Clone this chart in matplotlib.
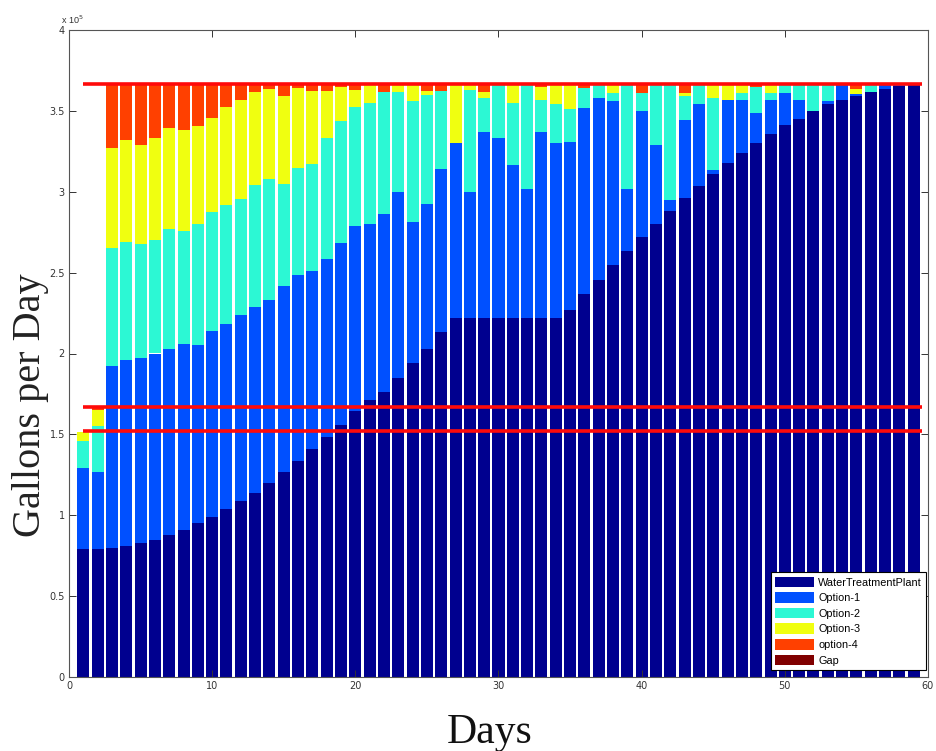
import matplotlib
matplotlib.use("Agg")
import matplotlib.pyplot as plt
import numpy as np

# values in units of 1e5 gallons per day, one entry per day (days 1..59)
days = list(range(1, 60))

wtp = [0.79, 0.79, 0.80, 0.81, 0.83, 0.85, 0.88, 0.91, 0.95, 0.99,
       1.04, 1.09, 1.14, 1.20, 1.265, 1.335, 1.41, 1.485, 1.56, 1.645,
       1.71, 1.765, 1.85, 1.94, 2.03, 2.13, 2.22, 2.22, 2.22, 2.22,
       2.22, 2.22, 2.22, 2.22, 2.27, 2.365, 2.455, 2.55, 2.635, 2.72,
       2.80, 2.88, 2.96, 3.035, 3.11, 3.18, 3.24, 3.30, 3.36, 3.41,
       3.45, 3.50, 3.54, 3.565, 3.595, 3.615, 3.635, 3.655, 3.665]

option1 = [0.50, 0.48, 1.12, 1.15, 1.145, 1.15, 1.15, 1.15, 1.10, 1.15,
           1.145, 1.15, 1.15, 1.13, 1.15, 1.15, 1.10, 1.10, 1.125, 1.145,
           1.09, 1.10, 1.15, 0.87, 0.895, 1.01, 1.08, 0.78, 1.15, 1.11,
           0.945, 0.80, 1.15, 1.08, 1.035, 1.155, 1.125, 1.01, 0.385, 0.78,
           0.49, 0.07, 0.485, 0.505, 0.025, 0.39, 0.325, 0.185, 0.205, 0.20,
           0.12, 0.0, 0.02, 0.10, 0.01, 0.0, 0.03, 0.01, 0.0]

option2 = [0.17, 0.28, 0.735, 0.73, 0.705, 0.70, 0.74, 0.70, 0.75, 0.735,
           0.735, 0.715, 0.75, 0.75, 0.635, 0.66, 0.66, 0.75, 0.75, 0.735,
           0.75, 0.75, 0.615, 0.75, 0.675, 0.48, 0.0, 0.63, 0.21, 0.335,
           0.385, 0.645, 0.195, 0.24, 0.205, 0.12, 0.085, 0.05, 0.645, 0.11,
           0.375, 0.715, 0.145, 0.125, 0.445, 0.0, 0.045, 0.16, 0.045, 0.055,
           0.095, 0.165, 0.105, 0.0, 0.0, 0.05, 0.0, 0.0, 0.0]

option3 = [0.055, 0.10, 0.615, 0.63, 0.61, 0.63, 0.625, 0.62, 0.605, 0.58,
           0.605, 0.61, 0.575, 0.555, 0.545, 0.495, 0.45, 0.285, 0.215, 0.105,
           0.115, 0.0, 0.05, 0.105, 0.02, 0.0, 0.365, 0.035, 0.035, 0.0,
           0.115, 0.0, 0.08, 0.125, 0.155, 0.0, 0.0, 0.055, 0.0, 0.0,
           0.0, 0.0, 0.02, 0.0, 0.085, 0.095, 0.055, 0.0, 0.055, 0.0,
           0.0, 0.0, 0.0, 0.0, 0.03, 0.0, 0.0, 0.0, 0.0]

option4 = [0.0, 0.02, 0.395, 0.345, 0.375, 0.335, 0.27, 0.285, 0.26, 0.21,
           0.14, 0.10, 0.05, 0.03, 0.07, 0.025, 0.045, 0.045, 0.015, 0.035,
           0.0, 0.05, 0.0, 0.0, 0.045, 0.045, 0.0, 0.0, 0.05, 0.0,
           0.0, 0.0, 0.02, 0.0, 0.0, 0.025, 0.0, 0.0, 0.0, 0.055,
           0.0, 0.0, 0.055, 0.0, 0.0, 0.0, 0.0, 0.02, 0.0, 0.0,
           0.0, 0.0, 0.0, 0.0, 0.03, 0.0, 0.0, 0.0, 0.0]

gap = [0.0] * 59

series = [wtp, option1, option2, option3, option4, gap]
names = ["WaterTreatmentPlant", "Option-1", "Option-2", "Option-3", "option-4", "Gap"]
colors = ["#00008f", "#0050ff", "#2cf8d4", "#f0ff10", "#ff4000", "#800000"]

# demand lines (1e5 gallons per day)
demand = [3.665, 1.668, 1.52]

fig = plt.figure(figsize=(9.36, 7.51), dpi=100)
ax = fig.add_axes([69 / 936, 1 - 677 / 751, (928 - 69) / 936, (677 - 30) / 751])

bottom = np.zeros(len(days))
handles = []
for vals, name, col in zip(series, names, colors):
    b = ax.bar(days, vals, width=0.84, bottom=bottom, color=col, label=name,
               linewidth=0)
    handles.append(b)
    bottom += np.array(vals)

for d in demand:
    ax.plot([1, 59.6], [d, d], color="#ff0a0a", lw=2.6, solid_capstyle="butt")

ax.set_xlim(0, 60)
ax.set_ylim(0, 4)
ax.set_xticks(range(0, 61, 10))
ax.set_yticks(np.arange(0, 4.01, 0.5))
ax.set_yticklabels(["%g" % v for v in np.arange(0, 4.01, 0.5)])
ax.tick_params(direction="in", length=5, width=0.7, top=True, right=True,
               labelsize=7, colors="#333333", pad=3)
for s in ax.spines.values():
    s.set_color("#555555")
    s.set_linewidth(0.8)

fig.text(61 / 936, 1 - 24 / 751, r"x 10$^5$", fontsize=6.5, color="#333333",
         family="Liberation Sans")

leg = ax.legend(handles=handles, loc="lower right", bbox_to_anchor=(0.998, 0.011),
                frameon=True, fancybox=False, edgecolor="black", framealpha=1,
                handlelength=3.6, handleheight=1.15, labelspacing=0.42,
                handletextpad=0.35, borderpad=0.4, borderaxespad=0.0,
                prop={"family": "Liberation Sans", "size": 7.8})
leg.get_frame().set_linewidth(0.8)

fig.text(31 / 936, 1 - 405 / 751, "Gallons per Day", rotation=90, ha="center",
         va="center", fontsize=29, family="Liberation Serif", color="#222222")
fig.text(490 / 936, 1 - 733 / 751, "Days", ha="center", va="center",
         fontsize=30, family="Liberation Serif", color="#111111")

fig.savefig("out.png", dpi=100)
